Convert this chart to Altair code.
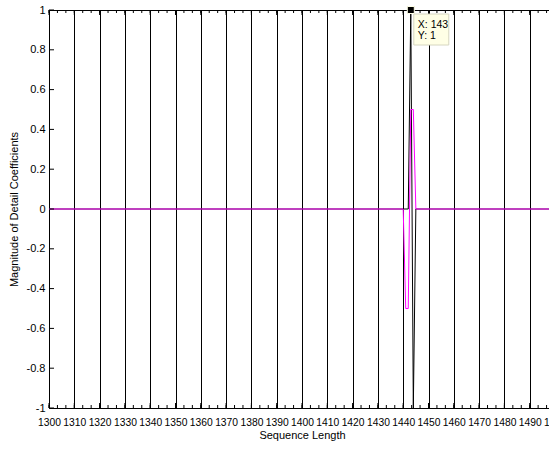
import altair as alt
import pandas as pd

# Original signal: flat at zero with a single spike around sample 1443
sig_x = [1300, 1442, 1443, 1444, 1445, 1500]
sig_y = [0, 0, 1, -1, 0, 0]

# Detail coefficients (Haar-like response around the spike)
det_x = [1300, 1440, 1441, 1442, 1443, 1444, 1445, 1500]
det_y = [0, 0, -0.5, -0.5, 0.5, 0.5, 0, 0]

# Axis ticks
x_major = list(range(1300, 1501, 10))
x_minor = [1300 + k * 10 / 3 for k in range(0, 61)]
y_major = [-1, -0.8, -0.6, -0.4, -0.2, 0, 0.2, 0.4, 0.6, 0.8, 1]

# Data tip
tip_x, tip_y = 1443, 1
tip_lines = ["X: 143", "Y: 1"]

W, H = 506, 398
FONT = "Liberation Sans"

xs = alt.Scale(domain=[1300, 1500], nice=False, zero=False)
ys = alt.Scale(domain=[-1, 1], nice=False, zero=False)

sig = pd.DataFrame({"x": sig_x, "y": sig_y})
det = pd.DataFrame({"x": det_x, "y": det_y})

x_axis = alt.Axis(
    values=x_major, tickCount=100, grid=True, gridColor="black", gridOpacity=1,
    gridWidth=1, ticks=False, tickSize=0, labelPadding=9, labelOverlap=False,
    labelFlush=False, labelBound=False, labelExpr="toString(datum.value)",
    labelFontSize=10.3,
    title="Sequence Length", titleX=W / 2, titleY=27, titleBaseline="middle",
    titleAlign="center",
)
y_axis = alt.Axis(
    values=y_major, tickCount=100, grid=False, ticks=False, tickSize=0,
    labelPadding=4, labelOverlap=False, labelFlush=False, labelBound=False,
    labelExpr="datum.value == 0 ? '0' : toString(round(datum.value * 10) / 10)",
    title="Magnitude of Detail Coefficients", titleX=-35, titleY=H / 2,
    titleBaseline="middle", titleAlign="center", titleAngle=-90,
)


def X(field="x:Q"):
    return alt.X(field, scale=xs, axis=x_axis)


def Y(field="y:Q"):
    return alt.Y(field, scale=ys, axis=y_axis)


base_sig = alt.Chart(sig).mark_line(color="black", strokeWidth=1, clip=True).encode(
    x=X(), y=Y())
det_line = alt.Chart(det).mark_line(color="#ff00ff", strokeWidth=1, clip=True).encode(
    x=X(), y=Y())

xmaj = pd.DataFrame({"x": x_major})
xmin = pd.DataFrame({"x": x_minor})
ymaj = pd.DataFrame({"y": y_major})


def xticks(df, length, at_top):
    # inward-pointing tick marks along the bottom or top edge of the box
    edge = 1 if at_top else -1
    off = length if at_top else -length
    return alt.Chart(df).mark_rule(color="black", strokeWidth=1, y2Offset=off).encode(
        x=X(),
        y=alt.YDatum(edge, scale=ys, axis=y_axis),
        y2=alt.Y2Datum(edge),
    )


tick_left = alt.Chart(ymaj).mark_rule(color="black", strokeWidth=1, x2Offset=5).encode(
    y=Y(),
    x=alt.XDatum(1300, scale=xs, axis=x_axis),
    x2=alt.X2Datum(1300),
)

tip = pd.DataFrame({"x": [tip_x], "y": [tip_y]})
tip_box = alt.Chart(tip).mark_rect(
    fill="#ffffe6", stroke="#d6d6c0", strokeWidth=1,
    xOffset=3, x2Offset=38, yOffset=4, y2Offset=35,
).encode(x=X(), x2="x", y=Y(), y2="y")
tip_marker = alt.Chart(tip).mark_square(
    size=49, fill="black", stroke="#ffffe6", strokeWidth=1, opacity=1
).encode(x=X(), y=Y())
tip_t1 = alt.Chart(tip).mark_text(
    text=tip_lines[0], align="left", baseline="middle", dx=7, dy=15,
    font=FONT, fontSize=10.5, color="black"
).encode(x=X(), y=Y())
tip_t2 = alt.Chart(tip).mark_text(
    text=tip_lines[1], align="left", baseline="middle", dx=7, dy=26,
    font=FONT, fontSize=10.5, color="black"
).encode(x=X(), y=Y())

chart = alt.layer(
    base_sig, det_line,
    xticks(xmaj, 5, False), xticks(xmaj, 5, True),
    xticks(xmin, 3, False), xticks(xmin, 3, True),
    tick_left, tip_box, tip_marker, tip_t1, tip_t2,
).properties(
    width=W, height=H,
    autosize=alt.AutoSizeParams(type="none"),
    padding={"left": 49, "top": 10, "right": -6, "bottom": 41},
    background="white",
).configure_view(
    stroke="black", strokeWidth=1,
).configure_axis(
    domainColor="black", domainWidth=1, labelColor="black", titleColor="black",
    labelFont=FONT, titleFont=FONT, labelFontSize=11, titleFontSize=11,
    titleFontWeight="normal",
)

chart.save("out.html", embed_options={"renderer": "svg", "actions": False})
